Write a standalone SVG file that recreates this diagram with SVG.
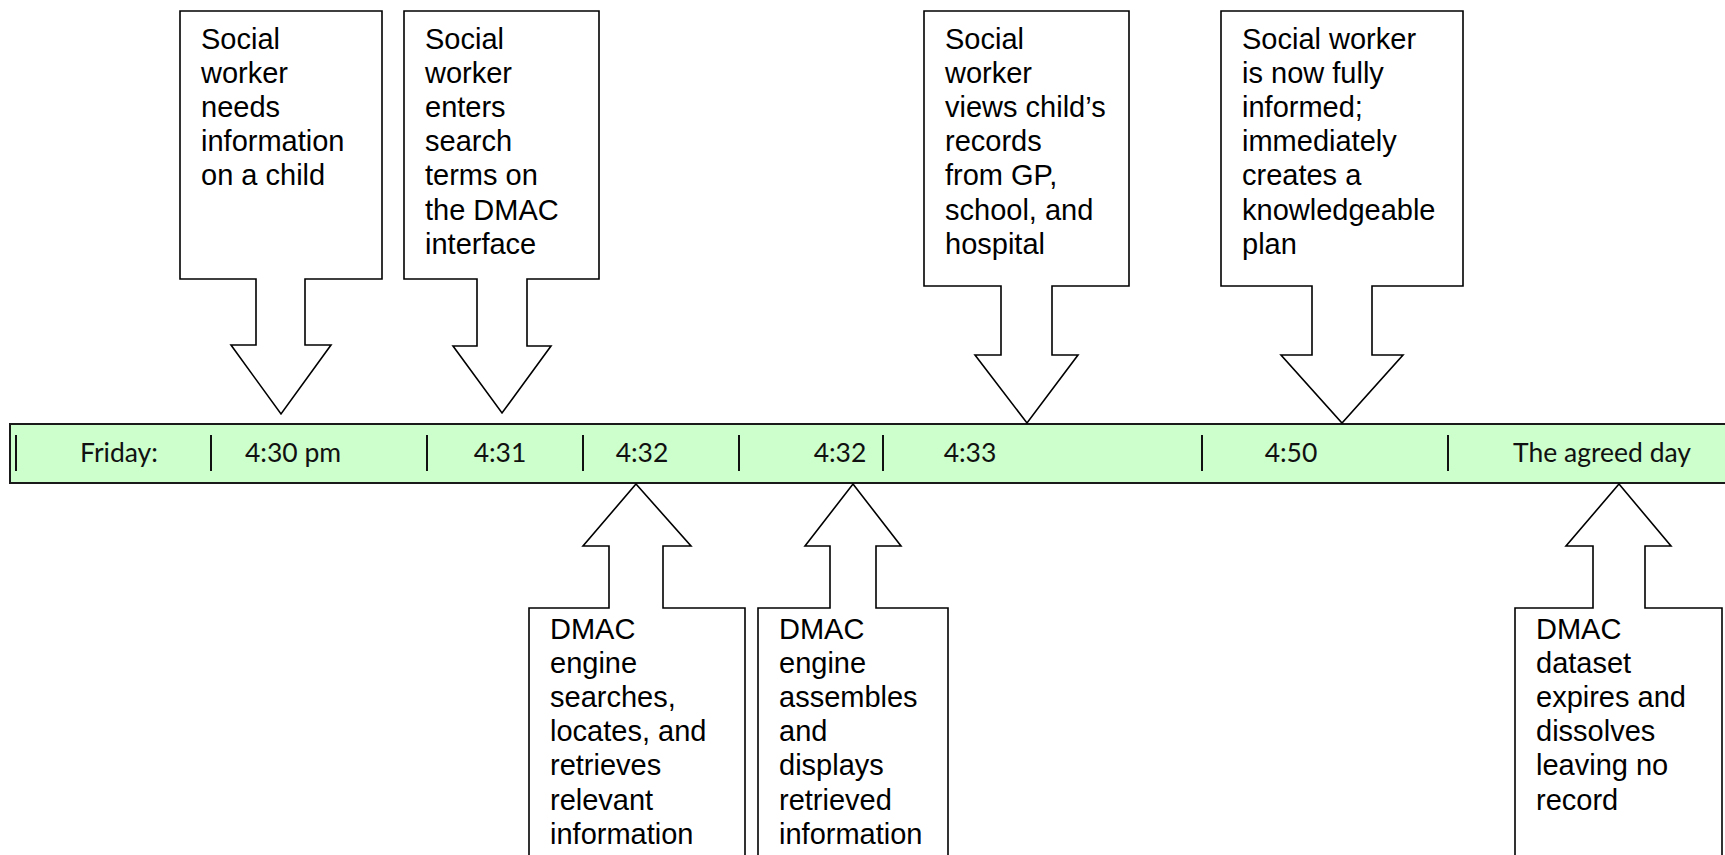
<svg xmlns="http://www.w3.org/2000/svg" width="1725" height="855" viewBox="0 0 1725 855">
<style>
.co{fill:#ffffff;stroke:#000;stroke-width:1.6;stroke-linejoin:miter}
.t{font-family:"Liberation Sans",Arial,sans-serif;font-size:29px;fill:#000}
.bar{fill:#ccffcc;stroke:#1a1a1a;stroke-width:2}
.tick{stroke:#111;stroke-width:2}
.bl{font-family:Lato,"Open Sans",sans-serif;font-size:26.5px;fill:#111;text-anchor:middle}
</style>
<rect width="1725" height="855" fill="#fff"/>
<g id="timeline">
<rect class="bar" x="10" y="424" width="1730" height="59"/>
<g id="ticks">
<line class="tick" x1="16" y1="435" x2="16" y2="471"/>
<line class="tick" x1="211" y1="435" x2="211" y2="471"/>
<line class="tick" x1="427" y1="435" x2="427" y2="471"/>
<line class="tick" x1="583" y1="435" x2="583" y2="471"/>
<line class="tick" x1="739" y1="435" x2="739" y2="471"/>
<line class="tick" x1="883" y1="435" x2="883" y2="471"/>
<line class="tick" x1="1202" y1="435" x2="1202" y2="471"/>
<line class="tick" x1="1448" y1="435" x2="1448" y2="471"/>
</g>
<text class="bl" x="119" y="462">Friday:</text>
<text class="bl" x="293" y="462">4:30 pm</text>
<text class="bl" x="500" y="462">4:31</text>
<text class="bl" x="642" y="462">4:32</text>
<text class="bl" x="840" y="462">4:32</text>
<text class="bl" x="970" y="462">4:33</text>
<text class="bl" x="1291" y="462">4:50</text>
<text class="bl" x="1602" y="462">The agreed day</text>
</g>
<g id="n1">
<polygon class="co" points="180,11 382,11 382,279 305,279 305,345 331,345 281,414 231,345 256,345 256,279 180,279"/>
<text class="t" x="201"><tspan x="201" y="48.5">Social</tspan><tspan x="201" y="82.7">worker</tspan><tspan x="201" y="116.9">needs</tspan><tspan x="201" y="151.1">information</tspan><tspan x="201" y="185.3">on a child</tspan></text>
</g>
<g id="n2">
<polygon class="co" points="404,11 599,11 599,279 527,279 527,346 551,346 502,413 453,346 477,346 477,279 404,279"/>
<text class="t"><tspan x="425" y="48.5">Social</tspan><tspan x="425" y="82.7">worker</tspan><tspan x="425" y="116.9">enters</tspan><tspan x="425" y="151.1">search</tspan><tspan x="425" y="185.3">terms on</tspan><tspan x="425" y="219.5">the DMAC</tspan><tspan x="425" y="253.7">interface</tspan></text>
</g>
<g id="n3">
<polygon class="co" points="924,11 1129,11 1129,286 1052,286 1052,355 1078,355 1027,423 975,355 1001,355 1001,286 924,286"/>
<text class="t"><tspan x="945" y="48.5">Social</tspan><tspan x="945" y="82.7">worker</tspan><tspan x="945" y="116.9">views child’s</tspan><tspan x="945" y="151.1">records</tspan><tspan x="945" y="185.3">from GP,</tspan><tspan x="945" y="219.5">school, and</tspan><tspan x="945" y="253.7">hospital</tspan></text>
</g>
<g id="n4">
<polygon class="co" points="1221,11 1463,11 1463,286 1372,286 1372,355 1403,355 1342,423 1281,355 1312,355 1312,286 1221,286"/>
<text class="t"><tspan x="1242" y="48.5">Social worker</tspan><tspan x="1242" y="82.7">is now fully</tspan><tspan x="1242" y="116.9">informed;</tspan><tspan x="1242" y="151.1">immediately</tspan><tspan x="1242" y="185.3">creates a</tspan><tspan x="1242" y="219.5">knowledgeable</tspan><tspan x="1242" y="253.7">plan</tspan></text>
</g>
<g id="n5">
<polygon class="co" points="636,484 691,546 663,546 663,608 745,608 745,862 529,862 529,608 609,608 609,546 583,546"/>
<text class="t"><tspan x="550" y="638.5">DMAC</tspan><tspan x="550" y="672.7">engine</tspan><tspan x="550" y="706.9">searches,</tspan><tspan x="550" y="741.1">locates, and</tspan><tspan x="550" y="775.3">retrieves</tspan><tspan x="550" y="809.5">relevant</tspan><tspan x="550" y="843.7">information</tspan></text>
</g>
<g id="n6">
<polygon class="co" points="853,484 901,546 876,546 876,608 948,608 948,862 758,862 758,608 830,608 830,546 805,546"/>
<text class="t"><tspan x="779" y="638.5">DMAC</tspan><tspan x="779" y="672.7">engine</tspan><tspan x="779" y="706.9">assembles</tspan><tspan x="779" y="741.1">and</tspan><tspan x="779" y="775.3">displays</tspan><tspan x="779" y="809.5">retrieved</tspan><tspan x="779" y="843.7">information</tspan></text>
</g>
<g id="n7">
<polygon class="co" points="1619,484 1671,546 1645,546 1645,608 1722,608 1722,862 1515,862 1515,608 1593,608 1593,546 1566,546"/>
<text class="t"><tspan x="1536" y="638.5">DMAC</tspan><tspan x="1536" y="672.7">dataset</tspan><tspan x="1536" y="706.9">expires and</tspan><tspan x="1536" y="741.1">dissolves</tspan><tspan x="1536" y="775.3">leaving no</tspan><tspan x="1536" y="809.5">record</tspan></text>
</g>
<g id="connectors"/>
</svg>
